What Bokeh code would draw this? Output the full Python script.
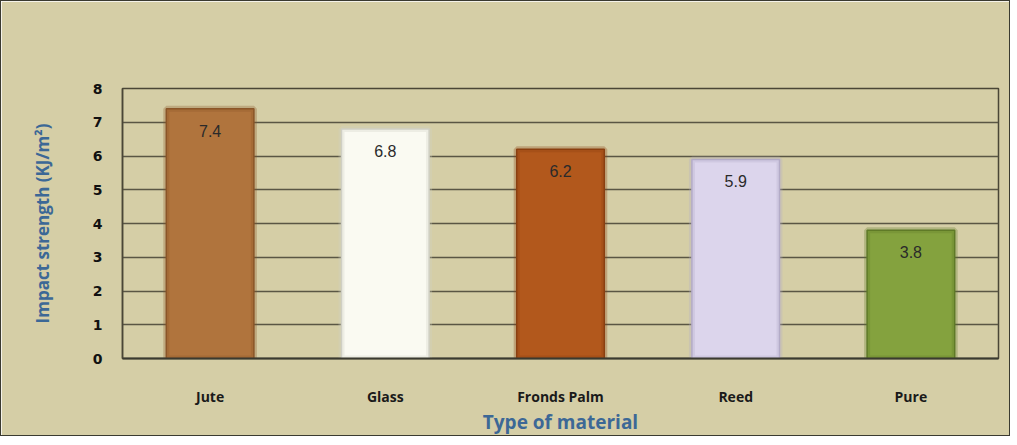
from bokeh.plotting import figure
from bokeh.models import ColumnDataSource, FixedTicker
from bokeh.core.properties import value
from bokeh.embed import file_html
from bokeh.resources import INLINE

materials = ["Jute", "Glass", "Fronds Palm", "Reed", "Pure"]
strength = [7.4, 6.8, 6.2, 5.9, 3.8]
colors = ["#b0743d", "#fafaf2", "#b2581c", "#dcd5ec", "#84a23e"]
edge_colors = ["#8a5529", "#cfcfc4", "#8a4010", "#b4abc8", "#5f7a28"]
labels = ["7.4", "6.8", "6.2", "5.9", "3.8"]
y_ticks = [0, 1, 2, 3, 4, 5, 6, 7, 8]

BG = "#d5cea6"

src = ColumnDataSource(dict(x=materials, top=strength, color=colors,
                            edge=edge_colors, label=labels))

p = figure(x_range=materials, y_range=(0, 8), width=1010, height=436,
           output_backend="svg", toolbar_location=None,
           min_border_left=121, min_border_right=13, min_border_top=87,
           min_border_bottom=78)
p.styles = {"border": "1.5px solid #3a3a30"}

p.background_fill_color = BG
p.border_fill_color = BG
p.outline_line_color = "#4a4636"
p.outline_line_width = 1.5

# bars
p.vbar(x="x", top="top", width=0.5, bottom=0, source=src,
       fill_color="color", line_color="edge", line_width=1.5)
# bevel shading on sides
p.vbar(x="x", top="top", width=0.5, bottom=0, source=src,
       fill_color=None, line_color="edge", line_width=6, line_alpha=0.3)

p.text(x="x", y="top", text="label", source=src, y_offset=22,
       text_align="center", text_baseline="middle",
       text_font=value("Liberation Sans"), text_font_size="16px",
       text_color="#2a2a2a")

p.xgrid.grid_line_color = None
p.ygrid.grid_line_color = "#5a5644"
p.ygrid.grid_line_width = 1.5
p.ygrid.ticker = FixedTicker(ticks=y_ticks)

p.yaxis.ticker = FixedTicker(ticks=y_ticks)
p.yaxis.major_tick_line_color = None
p.yaxis.minor_tick_line_color = None
p.yaxis.axis_line_color = "#4a4636"
p.yaxis.axis_line_width = 1.5
p.yaxis.major_label_text_font = "DejaVu Sans"
p.yaxis.major_label_text_font_style = "bold"
p.yaxis.major_label_text_font_size = "14px"
p.yaxis.major_label_text_color = "#111111"
p.yaxis.major_label_standoff = 14
p.yaxis.axis_label = "Impact strength (KJ/m²)"
p.yaxis.axis_label_text_font = "Open Sans"
p.yaxis.axis_label_text_font_style = "bold"
p.yaxis.axis_label_text_font_size = "17px"
p.yaxis.axis_label_text_color = "#3c6896"
p.yaxis.axis_label_standoff = 36

p.xaxis.major_tick_line_color = None
p.xaxis.minor_tick_line_color = None
p.xaxis.axis_line_color = "#3a3a30"
p.xaxis.axis_line_width = 2
p.xaxis.major_label_text_font = "Open Sans"
p.xaxis.major_label_text_font_style = "bold"
p.xaxis.major_label_text_font_size = "14px"
p.xaxis.major_label_text_color = "#1a1a1a"
p.xaxis.major_label_standoff = 22
p.xaxis.axis_label = "Type of material"
p.xaxis.axis_label_text_font = "Open Sans"
p.xaxis.axis_label_text_font_style = "bold"
p.xaxis.axis_label_text_font_size = "19px"
p.xaxis.axis_label_text_color = "#3c6896"
p.xaxis.axis_label_standoff = 0

p.x_range.range_padding = 0

open("out.html", "w").write(file_html(p, INLINE))
